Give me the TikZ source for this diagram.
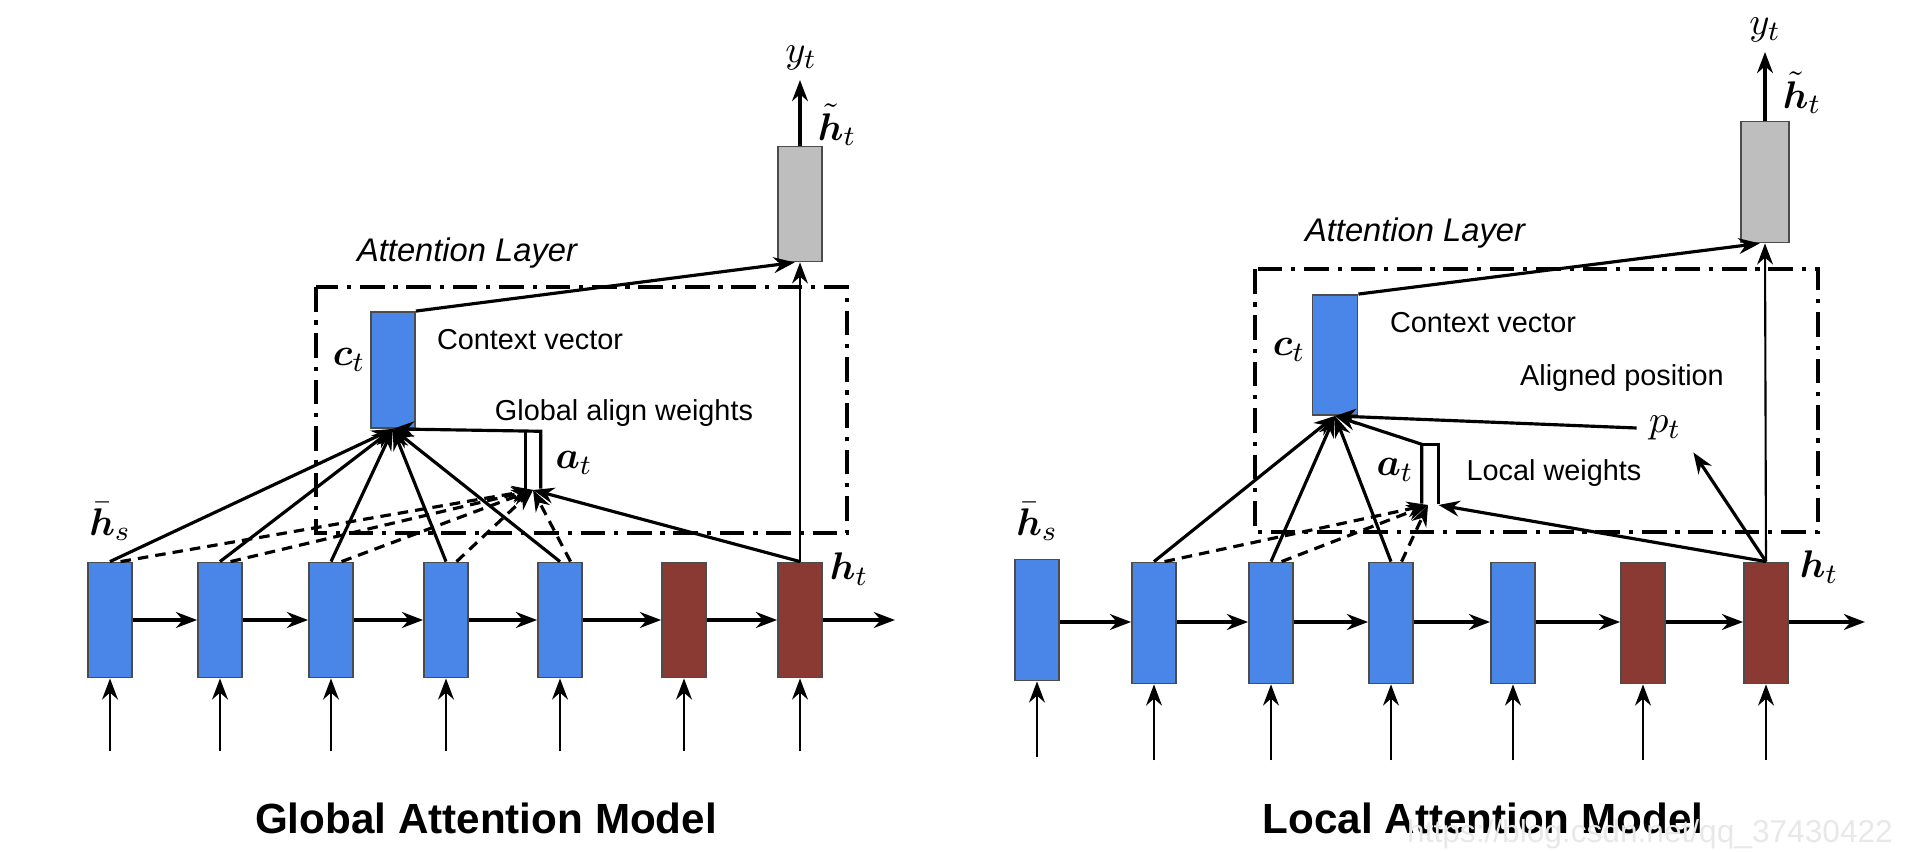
\documentclass[tikz,border=0pt]{standalone}
\usepackage{amsmath,amssymb}
\usepackage{fontspec}
\setsansfont{Liberation Sans}
\usepackage{tikz}
\usetikzlibrary{arrows,arrows.meta,positioning,calc}
\definecolor{cellblue}{RGB}{74,134,232}
\definecolor{cellred}{RGB}{138,58,50}
\definecolor{cellgray}{RGB}{190,190,190}

\begin{document}
\begin{tikzpicture}[x=0.01cm,y=-0.01cm,>={Stealth[length=6pt,width=4.5pt]},
    cell/.style={draw=black!70,line width=0.5pt,inner sep=0,minimum width=0.44cm,minimum height=1.15cm},
    enc/.style={cell,fill=cellblue},
    dec/.style={cell,fill=cellred},
    outc/.style={cell,fill=cellgray},
    vec/.style={inner sep=0,minimum width=0.14cm,minimum height=0.56cm},
    attframe/.style={line width=0.9pt,dash pattern=on 7pt off 2.5pt on 1.2pt off 2.5pt},
    link/.style={->,line width=0.9pt},
    feed/.style={->,line width=1.1pt},
    wgt/.style={->,line width=0.9pt,dash pattern=on 3pt off 2pt},
    txt/.style={font=\sffamily\fontsize{8.2}{10}\selectfont},
    sym/.style={font=\fontsize{11}{13}\selectfont},
    modeltitle/.style={font=\sffamily\bfseries\fontsize{12}{14}\selectfont}]
  \useasboundingbox (0,0) rectangle (1914,852);

  % global attention model
  \foreach \i/\x in {1/110,2/220,3/331,4/446,5/560}
    \node[enc] (gs\i) at (\x,620) {};
  \foreach \i/\x in {6/684,7/800}
    \node[dec] (gs\i) at (\x,620) {};
  \foreach \i/\j in {1/2,2/3,3/4,4/5,5/6,6/7}
    \draw[feed] (gs\i.east) -- (gs\j.west);
  \coordinate (gend) at (895,620);
  \draw[feed] (gs7.east) -- (gend);
  \foreach \i in {1,...,7}{
    \coordinate (gin\i) at ($(gs\i.south)+(0,73)$);
    \draw[->,line width=0.8pt] (gin\i) -- (gs\i.south);
  }
  \node[outc] (gy) at (800,204) {};
  \coordinate (gyt) at (800,80);
  \draw[feed] (gy.north) -- (gyt);
  \node[sym] (gylab) at (801,58) {$y_t$};
  \node[sym] (gtlab) at (837,125) {$\tilde{\boldsymbol{h}}_t$};
  \node[enc,minimum height=1.16cm] (gc) at (393,370) {};
  \node[sym] (gclab) at (349,360) {$\boldsymbol{c}_t$};
  \draw[attframe] (316,287) rectangle (847,533);
  \node[txt,font=\sffamily\itshape\fontsize{9.3}{11}\selectfont] (gal) at (467,253) {Attention Layer};
  \node[txt] (gcv) at (530,340) {Context vector};
  \node[txt] (ggw) at (624,413) {Global align weights};
  \node[sym] (gatlab) at (574,463) {$\boldsymbol{a}_t$};
  \node[sym] (ghs) at (110,522) {$\bar{\boldsymbol{h}}_s$};
  \node[sym] (ght) at (849,569) {$\boldsymbol{h}_t$};
  \node[modeltitle] (gtitle) at (486,818) {Global Attention Model};
  \node[vec] (gat) at (533,460) {};
  \coordinate (ga) at (533,490);
  \draw[line width=0.9pt] (gat.south west) -- (gat.north west);
  \draw[link] (gat.south east) -- (gat.north east) -- (gc.south);
  \foreach \i in {1,...,5}{
    \draw[link] (gs\i.north) -- (gc.south);
    \draw[wgt] ([xshift=3pt]gs\i.north) -- (ga);
  }
  \draw[link] (gs7.north) -- (ga);
  \draw[->,line width=0.6pt] (gs7.north) -- (gy.south);
  \draw[link] (gc.north east) -- ([xshift=-1.5pt]gy.south);

  % local attention model
  \node[enc,minimum height=1.21cm] (ls1) at (1037,620) {};
  \foreach \i/\x in {2/1154,3/1271,4/1391,5/1513}
    \node[enc,minimum height=1.21cm] (ls\i) at (\x,623) {};
  \foreach \i/\x in {6/1643,7/1766}
    \node[dec,minimum height=1.21cm] (ls\i) at (\x,623) {};
  \foreach \i/\j in {1/2,2/3,3/4,4/5,5/6,6/7}
    \draw[feed] (ls\i.east |- 0,622) -- (ls\j.west |- 0,622);
  \coordinate (lend) at (1865,622);
  \draw[feed] (ls7.east |- lend) -- (lend);
  \foreach \i in {1,...,7}{
    \coordinate (lin\i) at ($(ls\i.south)+(0,76)$);
    \draw[->,line width=0.8pt] (lin\i) -- (ls\i.south);
  }
  \node[outc,minimum width=0.48cm,minimum height=1.21cm] (ly) at (1765,182) {};
  \coordinate (lyt) at (1765,52);
  \draw[feed] (ly.north) -- (lyt);
  \node[sym] (lylab) at (1765,30) {$y_t$};
  \node[sym] (ltlab) at (1802,93) {$\tilde{\boldsymbol{h}}_t$};
  \node[enc,minimum width=0.45cm,minimum height=1.2cm] (lc) at (1335,355) {};
  \node[sym] (lclab) at (1289,350) {$\boldsymbol{c}_t$};
  \draw[attframe] (1255,269) rectangle (1818,532);
  \node[txt,font=\sffamily\itshape\fontsize{9.3}{11}\selectfont] (lal) at (1415,233) {Attention Layer};
  \node[txt] (lcv) at (1483,323) {Context vector};
  \node[txt] (lap) at (1622,378) {Aligned position};
  \node[sym] (lp) at (1665,428) {$p_t$};
  \node[sym] (latlab) at (1395,470) {$\boldsymbol{a}_t$};
  \node[txt] (llw) at (1554,473) {Local weights};
  \node[sym] (lhs) at (1037,522) {$\bar{\boldsymbol{h}}_s$};
  \node[sym] (lht) at (1819,567) {$\boldsymbol{h}_t$};
  \node[modeltitle] (ltitle) at (1483,818) {Local Attention Model};
  \node[vec,minimum width=0.15cm,minimum height=0.58cm] (lat) at (1430,474) {};
  \coordinate (la) at (1428,505);
  \draw[line width=0.9pt] (lat.south east) -- (lat.north east) -- (lat.north west);
  \draw[link] (lat.south west) -- (lat.north west) -- (lc.south);
  \foreach \i in {2,3,4}{
    \draw[link] (ls\i.north) -- (lc.south);
    \draw[wgt] ([xshift=3pt]ls\i.north) -- (la);
  }
  \draw[link] (ls7.north) -- ([xshift=3pt]la);
  \draw[link] (ls7.north) -- (lp.south east);
  \draw[link] (lp.west) -- (lc.south);
  \draw[->,line width=0.6pt] (ls7.north) -- (ly.south);
  \draw[link] (lc.north east) -- ([xshift=-1.5pt]ly.south);
  \node[font=\sffamily\fontsize{9}{10}\selectfont,text=black!9] (wmark) at (1650,834) {https://blog.csdn.net/qq\_37430422};
\end{tikzpicture}
\end{document}
